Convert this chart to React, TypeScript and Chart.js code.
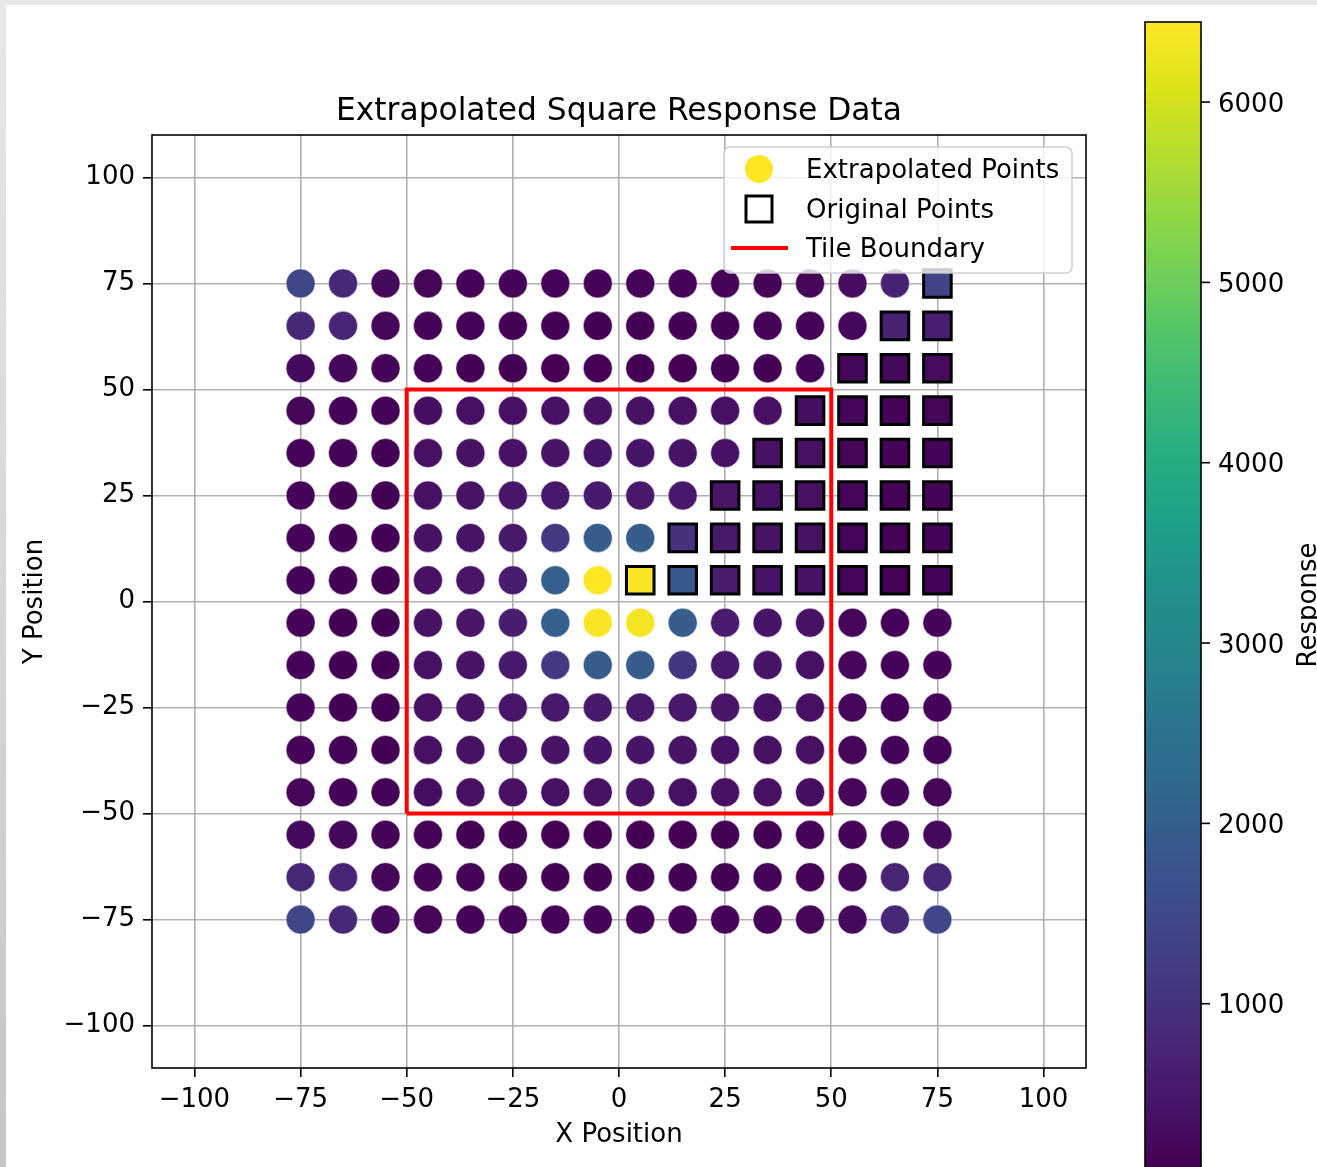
import React, { useEffect, useRef } from 'react';
import { Chart, registerables } from 'chart.js';

Chart.register(...registerables);

// ---------------- data ----------------
const X_POSITIONS = [-75, -65, -55, -45, -35, -25, -15, -5, 5, 15, 25, 35, 45, 55, 65, 75];
const Y_POSITIONS = [75, 65, 55, 45, 35, 25, 15, 5, -5, -15, -25, -35, -45, -55, -65, -75];

// Response values, one row per Y position (top to bottom), columns follow X_POSITIONS
const RESPONSE_ROWS = [
  [1450, 800, 260, 180, 160, 150, 150, 150, 150, 150, 150, 160, 180, 280, 700, 1350],
  [800, 740, 200, 140, 130, 120, 120, 120, 120, 120, 120, 130, 140, 210, 680, 620],
  [260, 200, 160, 130, 120, 110, 100, 100, 100, 100, 110, 120, 130, 200, 230, 270],
  [180, 140, 130, 330, 350, 360, 370, 380, 380, 370, 360, 350, 330, 190, 160, 180],
  [160, 130, 120, 350, 380, 400, 420, 440, 440, 420, 400, 380, 350, 180, 150, 160],
  [150, 120, 110, 370, 410, 460, 520, 540, 520, 490, 450, 400, 360, 170, 140, 150],
  [150, 120, 110, 380, 430, 520, 1150, 1950, 1950, 1000, 500, 420, 370, 170, 140, 150],
  [150, 120, 110, 380, 450, 600, 2000, 6444, 6400, 1850, 560, 440, 380, 170, 140, 160],
  [150, 120, 110, 380, 450, 600, 2000, 6400, 6350, 1950, 560, 440, 380, 170, 140, 160],
  [150, 120, 110, 380, 430, 520, 1150, 1950, 1950, 1100, 500, 420, 370, 170, 140, 150],
  [150, 120, 110, 370, 410, 460, 520, 540, 520, 490, 450, 400, 360, 170, 140, 150],
  [160, 130, 120, 350, 380, 400, 420, 440, 440, 420, 400, 380, 350, 180, 150, 160],
  [180, 140, 130, 330, 350, 360, 370, 380, 380, 370, 360, 350, 330, 190, 160, 180],
  [260, 200, 160, 130, 120, 110, 100, 100, 100, 100, 110, 120, 130, 160, 200, 260],
  [800, 740, 200, 140, 130, 120, 120, 120, 120, 120, 120, 130, 140, 200, 740, 800],
  [1450, 800, 260, 180, 160, 150, 150, 150, 150, 150, 150, 160, 180, 260, 800, 1450],
];

// Original (measured) points: [x, y]
const ORIGINAL_POINTS: [number, number][] = [
  [75, 75],
  [65, 65], [75, 65],
  [55, 55], [65, 55], [75, 55],
  [45, 45], [55, 45], [65, 45], [75, 45],
  [35, 35], [45, 35], [55, 35], [65, 35], [75, 35],
  [25, 25], [35, 25], [45, 25], [55, 25], [65, 25], [75, 25],
  [15, 15], [25, 15], [35, 15], [45, 15], [55, 15], [65, 15], [75, 15],
  [5, 5], [15, 5], [25, 5], [35, 5], [45, 5], [55, 5], [65, 5], [75, 5],
];

// Tile boundary polygon
const TILE_BOUNDARY_X = [-50, 50, 50, -50, -50];
const TILE_BOUNDARY_Y = [-50, -50, 50, 50, -50];

const AXIS_TICKS = [-100, -75, -50, -25, 0, 25, 50, 75, 100];
const AXIS_MIN = -110;
const AXIS_MAX = 110;
const COLORBAR_TICKS = [1000, 2000, 3000, 4000, 5000, 6000];

const TITLE = 'Extrapolated Square Response Data';
const X_LABEL = 'X Position';
const Y_LABEL = 'Y Position';
const CBAR_LABEL = 'Response';
const LEGEND_LABELS = ['Extrapolated Points', 'Original Points', 'Tile Boundary'];

// ---------------- styling ----------------
const FONT = '"DejaVu Sans", sans-serif';
const FS = 26;
const VIRIDIS = ['#440154', '#48186a', '#472d7b', '#424086', '#3b528b', '#33638d', '#2c728e', '#26828e',
  '#21918c', '#1fa088', '#28ae80', '#3fbc73', '#5ec962', '#84d44b', '#addc30', '#d8e219', '#fde725'];

const ALL_VALUES = RESPONSE_ROWS.flat();
const VMIN = Math.min(...ALL_VALUES);
const VMAX = Math.max(...ALL_VALUES);

function hexToRgb(h: string) {
  return [parseInt(h.slice(1, 3), 16), parseInt(h.slice(3, 5), 16), parseInt(h.slice(5, 7), 16)];
}
function viridis(t: number) {
  const c = Math.max(0, Math.min(1, t)) * (VIRIDIS.length - 1);
  const i = Math.min(Math.floor(c), VIRIDIS.length - 2);
  const f = c - i;
  const a = hexToRgb(VIRIDIS[i]);
  const b = hexToRgb(VIRIDIS[i + 1]);
  const m = a.map((v, k) => Math.round(v + (b[k] - v) * f));
  return `rgb(${m[0]},${m[1]},${m[2]})`;
}
const colorFor = (v: number) => viridis((v - VMIN) / (VMAX - VMIN));
const fmt = (v: number) => (v < 0 ? '\u2212' + Math.abs(v) : String(v));

function valueAt(x: number, y: number) {
  return RESPONSE_ROWS[Y_POSITIONS.indexOf(y)][X_POSITIONS.indexOf(x)];
}

export default function App() {
  const ref = useRef<HTMLCanvasElement | null>(null);

  useEffect(() => {
    const canvas = ref.current!;
    const W = 1317, H = 1167;

    const gridPoints: { x: number; y: number; v: number }[] = [];
    Y_POSITIONS.forEach((y, r) => X_POSITIONS.forEach((x, c) => gridPoints.push({ x, y, v: RESPONSE_ROWS[r][c] })));
    const origPoints = ORIGINAL_POINTS.map(([x, y]) => ({ x, y, v: valueAt(x, y) }));

    const bgPlugin = {
      id: 'bg',
      beforeDraw(chart: any) {
        const ctx = chart.ctx;
        ctx.save();
        const g = ctx.createLinearGradient(0, 0, 0, H);
        g.addColorStop(0, '#e8e8e8');
        g.addColorStop(1, '#c6c6c6');
        ctx.fillStyle = g;
        ctx.fillRect(0, 0, 6, H);
        ctx.fillStyle = '#e8e8e8';
        ctx.fillRect(0, 0, W, 5);
        ctx.fillStyle = '#ffffff';
        ctx.fillRect(6, 5, W - 6, H - 5);
        ctx.restore();
      },
    };

    const overlayPlugin = {
      id: 'overlay',
      afterDraw(chart: any) {
        const ctx = chart.ctx;
        const xs = chart.scales.x, ys = chart.scales.y;
        const a = chart.chartArea;
        ctx.save();

        // tile boundary
        ctx.beginPath();
        TILE_BOUNDARY_X.forEach((bx, i) => {
          const px = xs.getPixelForValue(bx), py = ys.getPixelForValue(TILE_BOUNDARY_Y[i]);
          if (i === 0) ctx.moveTo(px, py); else ctx.lineTo(px, py);
        });
        ctx.strokeStyle = '#ff0000';
        ctx.lineWidth = 4;
        ctx.lineJoin = 'miter';
        ctx.stroke();

        // frame
        ctx.strokeStyle = '#000';
        ctx.lineWidth = 1.6;
        ctx.strokeRect(a.left, a.top, a.right - a.left, a.bottom - a.top);

        // title
        ctx.fillStyle = '#000';
        ctx.font = `31.3px ${FONT}`;
        ctx.textAlign = 'center';
        ctx.textBaseline = 'alphabetic';
        ctx.fillText(TITLE, (a.left + a.right) / 2, 120);

        // axis labels
        ctx.font = `${FS}px ${FONT}`;
        ctx.fillText(X_LABEL, (a.left + a.right) / 2, 1142);
        ctx.save();
        ctx.translate(42, (a.top + a.bottom) / 2);
        ctx.rotate(-Math.PI / 2);
        ctx.fillText(Y_LABEL, 0, 0);
        ctx.restore();

        // legend
        const lx = 724, ly = 147, lw = 348, lh = 126, rr = 6;
        ctx.beginPath();
        ctx.moveTo(lx + rr, ly);
        ctx.arcTo(lx + lw, ly, lx + lw, ly + lh, rr);
        ctx.arcTo(lx + lw, ly + lh, lx, ly + lh, rr);
        ctx.arcTo(lx, ly + lh, lx, ly, rr);
        ctx.arcTo(lx, ly, lx + lw, ly, rr);
        ctx.closePath();
        ctx.fillStyle = 'rgba(255,255,255,0.8)';
        ctx.fill();
        ctx.strokeStyle = 'rgba(204,204,204,0.9)';
        ctx.lineWidth = 1.6;
        ctx.stroke();

        const rowY = [169, 209, 248];
        ctx.beginPath();
        ctx.arc(759, rowY[0], 14, 0, Math.PI * 2);
        ctx.fillStyle = colorFor(VMAX);
        ctx.fill();
        ctx.strokeStyle = '#000';
        ctx.lineWidth = 3;
        ctx.strokeRect(759 - 13, rowY[1] - 13, 26, 26);
        ctx.beginPath();
        ctx.moveTo(731, rowY[2]);
        ctx.lineTo(788, rowY[2]);
        ctx.strokeStyle = '#ff0000';
        ctx.lineWidth = 4;
        ctx.stroke();

        ctx.fillStyle = '#000';
        ctx.font = `${FS}px ${FONT}`;
        ctx.textAlign = 'left';
        ctx.textBaseline = 'alphabetic';
        LEGEND_LABELS.forEach((t, i) => ctx.fillText(t, 806, rowY[i] + 9));

        // colorbar
        const cbL = 1145, cbR = 1201, cbTop = 22, cbBot = 1166;
        const cbY = (v: number) => cbTop + (VMAX - v) / (VMAX - VMIN) * (cbBot - cbTop);
        const grad = ctx.createLinearGradient(0, cbBot, 0, cbTop);
        VIRIDIS.forEach((c, i) => grad.addColorStop(i / (VIRIDIS.length - 1), c));
        ctx.fillStyle = grad;
        ctx.fillRect(cbL, cbTop, cbR - cbL, cbBot - cbTop + 10);
        ctx.strokeStyle = '#000';
        ctx.lineWidth = 1.6;
        ctx.strokeRect(cbL, cbTop, cbR - cbL, cbBot - cbTop + 10);
        ctx.fillStyle = '#000';
        ctx.textAlign = 'left';
        COLORBAR_TICKS.forEach((t) => {
          const y = cbY(t);
          ctx.beginPath();
          ctx.moveTo(cbR, y);
          ctx.lineTo(cbR + 9, y);
          ctx.lineWidth = 1.6;
          ctx.stroke();
          ctx.fillText(String(t), 1218, y + 9.5);
        });
        ctx.save();
        ctx.translate(1316, 605);
        ctx.rotate(-Math.PI / 2);
        ctx.textAlign = 'center';
        ctx.fillText(CBAR_LABEL, 0, 0);
        ctx.restore();

        ctx.restore();
      },
    };

    const axisCommon = (fit: (s: any) => void) => ({
      type: 'linear' as const,
      min: AXIS_MIN,
      max: AXIS_MAX,
      z: 1,
      afterBuildTicks: (s: any) => { s.ticks = AXIS_TICKS.map((v) => ({ value: v })); },
      afterFit: fit,
      border: { display: false },
      grid: { color: '#b0b0b0', lineWidth: 1.6, tickColor: '#000', tickLength: 9, tickWidth: 1.6, drawTicks: true },
      ticks: {
        autoSkip: false,
        maxRotation: 0,
        padding: 8,
        color: '#000',
        font: { family: FONT, size: FS },
        callback: (v: any) => fmt(Number(v)),
      },
    });

    const chart = new Chart(canvas, {
      type: 'scatter',
      data: {
        datasets: [
          {
            label: LEGEND_LABELS[0],
            order: 2,
            data: gridPoints,
            pointBackgroundColor: gridPoints.map((p) => colorFor(p.v)),
            pointBorderColor: 'rgba(255,255,255,0.6)',
            pointBorderWidth: 0.8,
            pointRadius: 14.5,
            pointStyle: 'circle',
          },
          {
            label: LEGEND_LABELS[1],
            order: 1,
            data: origPoints,
            pointBackgroundColor: origPoints.map((p) => colorFor(p.v)),
            pointBorderColor: '#000',
            pointBorderWidth: 3,
            pointRadius: 19.5,
            pointStyle: 'rect',
          },
        ],
      },
      options: {
        animation: false,
        responsive: false,
        events: [],
        layout: { padding: { left: 0, top: 135, right: 231, bottom: 0 } },
        plugins: { legend: { display: false }, title: { display: false }, tooltip: { enabled: false } },
        scales: {
          x: axisCommon((s: any) => { s.height = 99; }),
          y: axisCommon((s: any) => { s.width = 152; }),
        },
      } as any,
      plugins: [bgPlugin, overlayPlugin],
    });

    return () => chart.destroy();
  }, []);

  return (
    <div style={{ position: 'absolute', left: 0, top: 0, width: 1317, height: 1167 }}>
      <canvas ref={ref} width={1317} height={1167} style={{ display: 'block', width: 1317, height: 1167 }} />
    </div>
  );
}
